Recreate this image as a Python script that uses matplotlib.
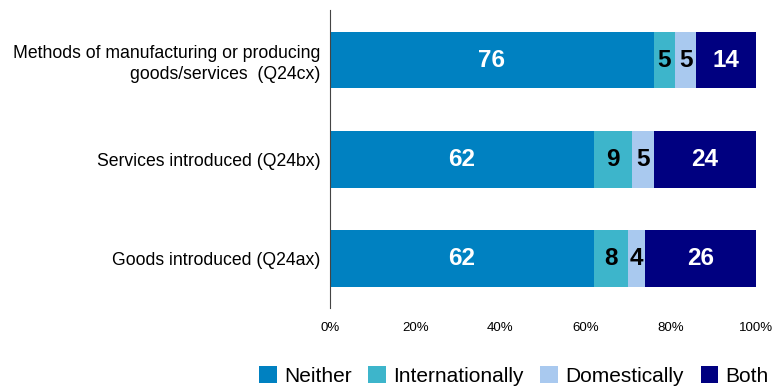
import numpy as np
import matplotlib.pyplot as plt

plt.rcParams['font.family'] = ['Liberation Sans', 'DejaVu Sans']

categories = ['Goods introduced (Q24ax)',
              'Services introduced (Q24bx)',
              'Methods of manufacturing or producing\ngoods/services  (Q24cx)']
series = ['Neither', 'Internationally', 'Domestically', 'Both']
values = {
    'Neither':         [62, 62, 76],
    'Internationally': [8, 9, 5],
    'Domestically':    [4, 5, 5],
    'Both':            [26, 24, 14],
}
colors = ['#0081C1', '#3DB5CB', '#A9C9EF', '#000080']
text_colors = ['white', 'black', 'black', 'white']

fig = plt.figure(figsize=(7.74, 3.87), dpi=100)
ax = fig.add_axes([0.4264, 0.204, 0.5503, 0.769])

y = np.arange(len(categories))
left = np.zeros(len(categories))
for s, c, tc in zip(series, colors, text_colors):
    v = np.array(values[s])
    ax.barh(y, v, left=left, height=0.57, color=c, label=s)
    for yi, li, vi in zip(y, left, v):
        ax.text(li + vi / 2, yi, str(vi), ha='center', va='center',
                color=tc, fontsize=17.5, fontweight='bold')
    left += v

ax.set_xlim(0, 100)
ax.set_ylim(-0.5, 2.5)
ax.set_yticks(y)
ax.set_yticklabels(categories, fontsize=12.7)
for lab in ax.get_yticklabels():
    lab.set_linespacing(1.3)
ax.set_xticks(np.arange(0, 101, 20))
ax.set_xticklabels([f'{t}%' for t in range(0, 101, 20)], fontsize=9.5)
ax.tick_params(axis='y', length=0, pad=7)
ax.tick_params(axis='x', length=0, pad=10)
for sp in ['top', 'right', 'bottom']:
    ax.spines[sp].set_visible(False)
ax.spines['left'].set_color('#444444')

fig.legend(loc='lower center', bbox_to_anchor=(0.664, -0.045), ncol=4,
           frameon=False, fontsize=15, handlelength=0.85, handleheight=0.85,
           handletextpad=0.35, columnspacing=0.8)

fig.savefig('out.png', dpi=100)
